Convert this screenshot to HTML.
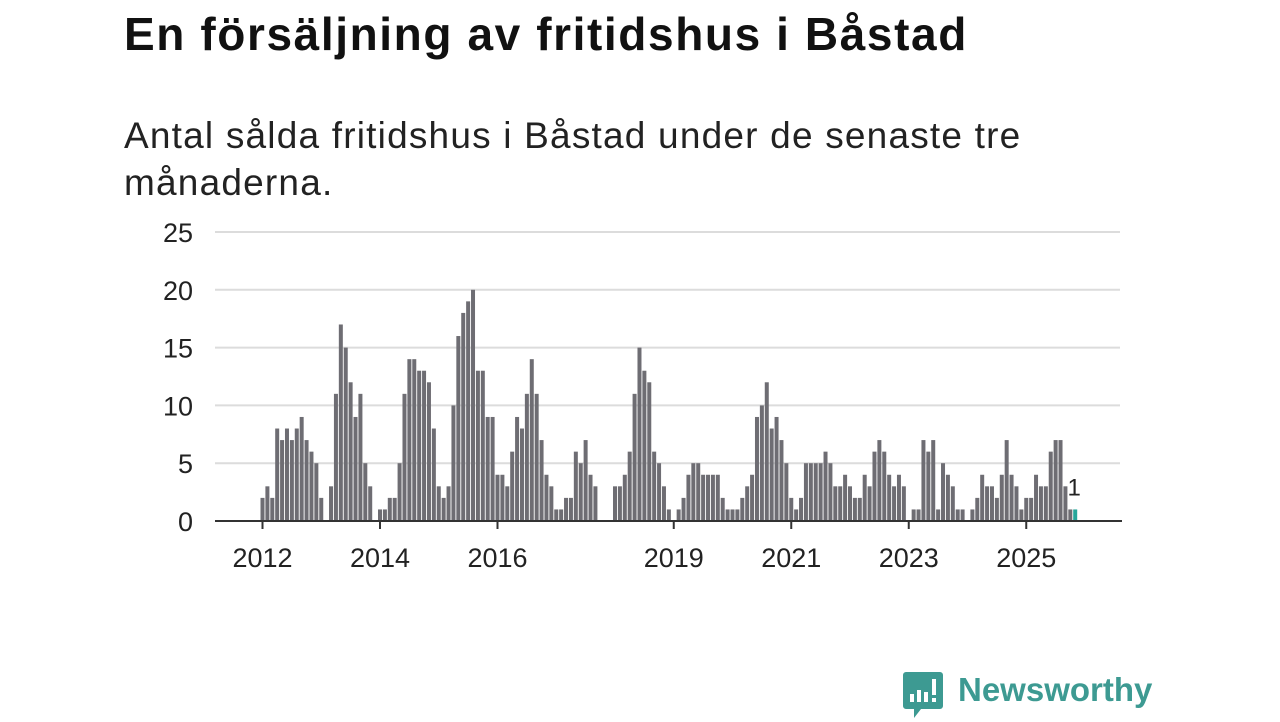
<!DOCTYPE html>
<html><head><meta charset="utf-8">
<style>
body{margin:0;width:1280px;height:720px;background:#fff;overflow:hidden;font-family:"Liberation Sans",sans-serif;}
h1{position:absolute;left:124px;top:7px;margin:0;font-size:46px;font-weight:bold;color:#111;letter-spacing:1.6px;white-space:nowrap}
.sub{position:absolute;left:124px;top:112px;margin:0;font-size:37px;line-height:47px;color:#222;width:980px;letter-spacing:1.2px}
svg{position:absolute;left:0;top:0}
</style></head><body>
<h1>En försäljning av fritidshus i Båstad</h1>
<p class="sub">Antal sålda fritidshus i Båstad under de senaste tre månaderna.</p>
<svg id="chart" width="1280" height="720"></svg>
<div style="position:absolute;left:903px;top:670px;height:50px;">
<svg width="42" height="50" style="position:absolute;left:0;top:2px">
<path d="M3 0 H37 A3 3 0 0 1 40 3 V34 A3 3 0 0 1 37 37 H18 L11 46 V37 H3 A3 3 0 0 1 0 34 V3 A3 3 0 0 1 3 0Z" fill="#3d9a92"/>
<rect x="7" y="22" width="4" height="8" fill="#fff"/><rect x="14" y="18" width="4" height="12" fill="#fff"/><rect x="21" y="20" width="4" height="10" fill="#fff"/><rect x="29" y="7" width="4" height="16" fill="#fff"/><rect x="29" y="26" width="4" height="4" fill="#fff"/>
</svg>
<span style="position:absolute;left:55px;top:1px;font-size:33px;font-weight:bold;color:#3d9a92;white-space:nowrap">Newsworthy</span>
</div>
<script>
const years=[2012,2013,2014,2015,2016,2017,2018,2019,2020,2021,2022,2023,2024,2025];
const tickYears=[2012,2014,2016,2019,2021,2023,2025];
const yTicks=[0,5,10,15,20,25];
const v2012=[2,3,2,8,7,8,7,8,9,7,6,5];
const v2013=[2,0,3,11,17,15,12,9,11,5,3,0];
const v2014=[1,1,2,2,5,11,14,14,13,13,12,8];
const v2015=[3,2,3,10,16,18,19,20,13,13,9,9];
const v2016=[4,4,3,6,9,8,11,14,11,7,4,3];
const v2017=[1,1,2,2,6,5,7,4,3,0,0,0];
const v2018=[3,3,4,6,11,15,13,12,6,5,3,1];
const v2019=[0,1,2,4,5,5,4,4,4,4,2,1];
const v2020=[1,1,2,3,4,9,10,12,8,9,7,5];
const v2021=[2,1,2,5,5,5,5,6,5,3,3,4];
const v2022=[3,2,2,4,3,6,7,6,4,3,4,3];
const v2023=[0,1,1,7,6,7,1,5,4,3,1,1];
const v2024=[0,1,2,4,3,3,2,4,7,4,3,1];
const v2025=[2,2,4,3,3,6,7,7,3,1,1];
const values=[].concat(v2012,v2013,v2014,v2015,v2016,v2017,v2018,v2019,v2020,v2021,v2022,v2023,v2024,v2025);

const NS="http://www.w3.org/2000/svg";
const svg=document.getElementById('chart');
const x0=262.5, perMonth=58.75/12, y0=521, yMax=25, yTop=232;
function xScale(m){return x0+m*perMonth;}
function yScale(v){return y0-(v/yMax)*(y0-yTop);}
function mk(tag,attrs){const e=document.createElementNS(NS,tag);for(const k in attrs)e.setAttribute(k,attrs[k]);svg.appendChild(e);return e;}
yTicks.forEach(t=>{
  if(t>0){const g=mk('line',{x1:215,x2:1120,y1:yScale(t),y2:yScale(t),stroke:'#dcdcdc','stroke-width':2});
  
  }
  const l=mk('text',{x:193,y:yScale(t)+10,'text-anchor':'end','font-size':27,fill:'#222','font-family':'Liberation Sans, sans-serif'});
  l.textContent=t;
  
  
});
values.forEach((v,i)=>{
  const last=i===values.length-1;
  const r=mk('rect',{x:xScale(i)-2,y:yScale(v),width:4,height:y0-yScale(v),fill:last?'#26a69a':'#6e6d73'});
  
  
});
const li=values.length-1;
const lab=mk('text',{x:xScale(li)-1,y:yScale(values[li])-14,'text-anchor':'middle','font-size':24,fill:'#222','font-family':'Liberation Sans, sans-serif'});
lab.textContent=values[li];


const ax=mk('line',{x1:215,x2:1122,y1:y0,y2:y0,stroke:'#333','stroke-width':2});


tickYears.forEach(yr=>{
  const m=(yr-years[0])*12;
  const t=mk('line',{x1:xScale(m),x2:xScale(m),y1:y0,y2:y0+8,stroke:'#333','stroke-width':2});
  
  
  const l=mk('text',{x:xScale(m),y:567,'text-anchor':'middle','font-size':27,fill:'#222','font-family':'Liberation Sans, sans-serif'});
  l.textContent=yr;
  
  
});
</script>
</body></html>
